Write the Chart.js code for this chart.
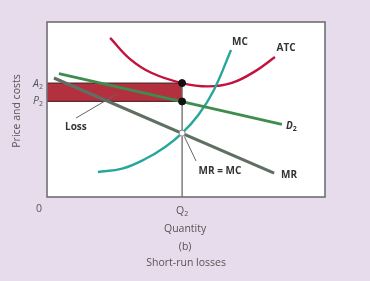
<!DOCTYPE html>
<html>
<head>
<meta charset="utf-8">
<script src="https://cdn.jsdelivr.net/npm/chart.js@4.4.0/dist/chart.umd.min.js"></script>
<style>
  html, body { margin: 0; padding: 0; background: #e7dcec; }
  #wrap { width: 370px; height: 281px; position: relative; }
</style>
</head>
<body>
<div id="wrap"><canvas id="c"></canvas></div>
<script>
// ---- Data (arbitrary units: quantity 0..100, price 0..100) ----
const Q2 = 48.6;
const A2 = 65.1;
const P2 = 54.6;
const MR_MC = 36.5;

const atcX = [22.7, 29.9, 37.5, 48.6, 58.0, 66.5, 74.8, 82.0];
const atcY = [90.9, 78.8, 71.0, 65.1, 63.2, 65.2, 71.8, 80.0];

const mcX = [18.3, 27.0, 35.3, 42.5, 48.6, 54.5, 60.0, 66.2];
const mcY = [14.3, 16.2, 21.7, 28.6, 36.5, 47.0, 61.0, 84.0];

const d2X = [4.3, 84.5];
const d2Y = [70.5, 41.5];

const mrX = [2.5, 81.7];
const mrY = [68.0, 13.7];

const xTickLabels = ["0", "Q"];
const yTickLabels = ["A", "P"];

const pts = (xs, ys) => xs.map((x, i) => ({ x: x, y: ys[i] }));

const FONT = '"Open Sans", "Liberation Sans", sans-serif';

const decor = {
  id: 'decor',
  beforeDraw(chart) {
    const { ctx, chartArea: a } = chart;
    ctx.save();
    ctx.fillStyle = '#ffffff';
    ctx.fillRect(a.left, a.top, a.right - a.left, a.bottom - a.top);
    ctx.restore();
  },
  afterDraw(chart) {
    const { ctx, chartArea: a, scales } = chart;
    const sx = v => scales.x.getPixelForValue(v);
    const sy = v => scales.y.getPixelForValue(v);
    ctx.save();
    // border
    ctx.strokeStyle = '#707074';
    ctx.lineWidth = 1.6;
    ctx.strokeRect(a.left, a.top, a.right - a.left, a.bottom - a.top);

    // pointer lines
    ctx.strokeStyle = '#666';
    ctx.lineWidth = 1;
    ctx.beginPath();
    ctx.moveTo(sx(10.4), sy(45.1)); ctx.lineTo(sx(25.2), sy(58.9));
    ctx.moveTo(sx(49.4), sy(34.6)); ctx.lineTo(sx(53.6), sy(20.6));
    ctx.stroke();

    // in-plot labels
    ctx.fillStyle = '#333';
    ctx.textAlign = 'center';
    ctx.textBaseline = 'middle';
    ctx.font = 'bold 10px ' + FONT;
    ctx.fillText('MC', sx(69.4), sy(88.6));
    ctx.fillText('ATC', sx(86.0), sy(85.1));
    ctx.fillText('MR', sx(87.1), sy(12.6));
    ctx.fillText('MR = MC', sx(62.2), sy(14.9));
    ctx.fillText('Loss', sx(10.4), sy(40.0));
    // D2 italic with subscript
    ctx.font = 'italic bold 10px ' + FONT;
    ctx.textAlign = 'left';
    ctx.fillText('D', sx(86.0), sy(40.6));
    const dw = ctx.measureText('D').width;
    ctx.font = 'bold 7px ' + FONT;
    ctx.fillText('2', sx(86.0) + dw, sy(40.6) + 3);

    // axis tick-like labels
    ctx.fillStyle = '#555';
    function sub(main, x, y, align, style) {
      ctx.font = style + '10.5px ' + FONT;
      const mw = ctx.measureText(main).width;
      ctx.font = '7px ' + FONT;
      const sw = ctx.measureText('2').width;
      let x0 = align === 'right' ? x - mw - sw : x - (mw + sw) / 2;
      ctx.textAlign = 'left';
      ctx.font = style + '10.5px ' + FONT;
      ctx.fillText(main, x0, y);
      ctx.font = '7px ' + FONT;
      ctx.fillText('2', x0 + mw, y + 3);
    }
    sub(yTickLabels[0], a.left - 4, sy(A2) + 1, 'right', 'italic ');
    sub(yTickLabels[1], a.left - 4, sy(P2) + 0, 'right', 'italic ');
    ctx.font = '10.5px ' + FONT;
    ctx.textAlign = 'center';
    ctx.fillText(xTickLabels[0], a.left - 8, a.bottom + 12);
    sub(xTickLabels[1], sx(Q2), a.bottom + 14, 'center', '');

    ctx.font = '10.5px ' + FONT;
    ctx.textAlign = 'center';
    ctx.fillText('Quantity', sx(Q2) + 3, a.bottom + 32);
    ctx.fillText('(b)', sx(Q2) + 3, a.bottom + 50);
    ctx.fillText('Short-run losses', sx(Q2) + 4, a.bottom + 66);

    // y title
    ctx.translate(17, 111);
    ctx.rotate(-Math.PI / 2);
    ctx.fillText('Price and costs', 0, 0);
    ctx.restore();
  }
};

new Chart(document.getElementById('c'), {
  type: 'line',
  data: {
    datasets: [
      { label: 'A2', data: pts([0, Q2], [A2, A2]), borderColor: '#5a2a30', borderWidth: 1.2,
        backgroundColor: '#b3313f', fill: '+1', pointRadius: 0, order: 10 },
      { label: 'P2', data: pts([0, Q2], [P2, P2]), borderColor: '#5a2a30', borderWidth: 1.2,
        pointRadius: 0, fill: false, order: 9 },
      { label: 'Q2', data: pts([Q2, Q2], [0, A2]), borderColor: '#6a6a6a', borderWidth: 1.3,
        pointRadius: 0, fill: false, order: 8 },
      { label: 'ATC', data: pts(atcX, atcY), borderColor: '#c4123f', borderWidth: 2.4,
        pointRadius: 0, tension: 0.4, fill: false, order: 5 },
      { label: 'MC', data: pts(mcX, mcY), borderColor: '#27a79c', borderWidth: 2.4,
        pointRadius: 0, tension: 0.4, fill: false, order: 4 },
      { label: 'D2', data: pts(d2X, d2Y), borderColor: '#3f8c4f', borderWidth: 2.6,
        pointRadius: 0, fill: false, order: 3 },
      { label: 'MR', data: pts(mrX, mrY), borderColor: '#5f6f63', borderWidth: 3,
        pointRadius: 0, fill: false, order: 2 },
      { label: 'pts', data: pts([Q2, Q2], [A2, P2]), showLine: false, pointRadius: 3.5,
        pointBackgroundColor: '#111', pointBorderColor: '#111', order: 1 },
      { label: 'eq', data: pts([Q2], [MR_MC]), showLine: false, pointRadius: 3,
        pointBackgroundColor: '#fff', pointBorderColor: '#888', pointBorderWidth: 1, order: 0 }
    ]
  },
  options: {
    responsive: true,
    maintainAspectRatio: false,
    animation: false,
    layout: { padding: { left: 47, right: 45, top: 22, bottom: 84 } },
    plugins: { legend: { display: false }, tooltip: { enabled: false } },
    scales: {
      x: { type: 'linear', min: 0, max: 100, display: false },
      y: { type: 'linear', min: 0, max: 100, display: false }
    }
  },
  plugins: [decor]
});
</script>
</body>
</html>
